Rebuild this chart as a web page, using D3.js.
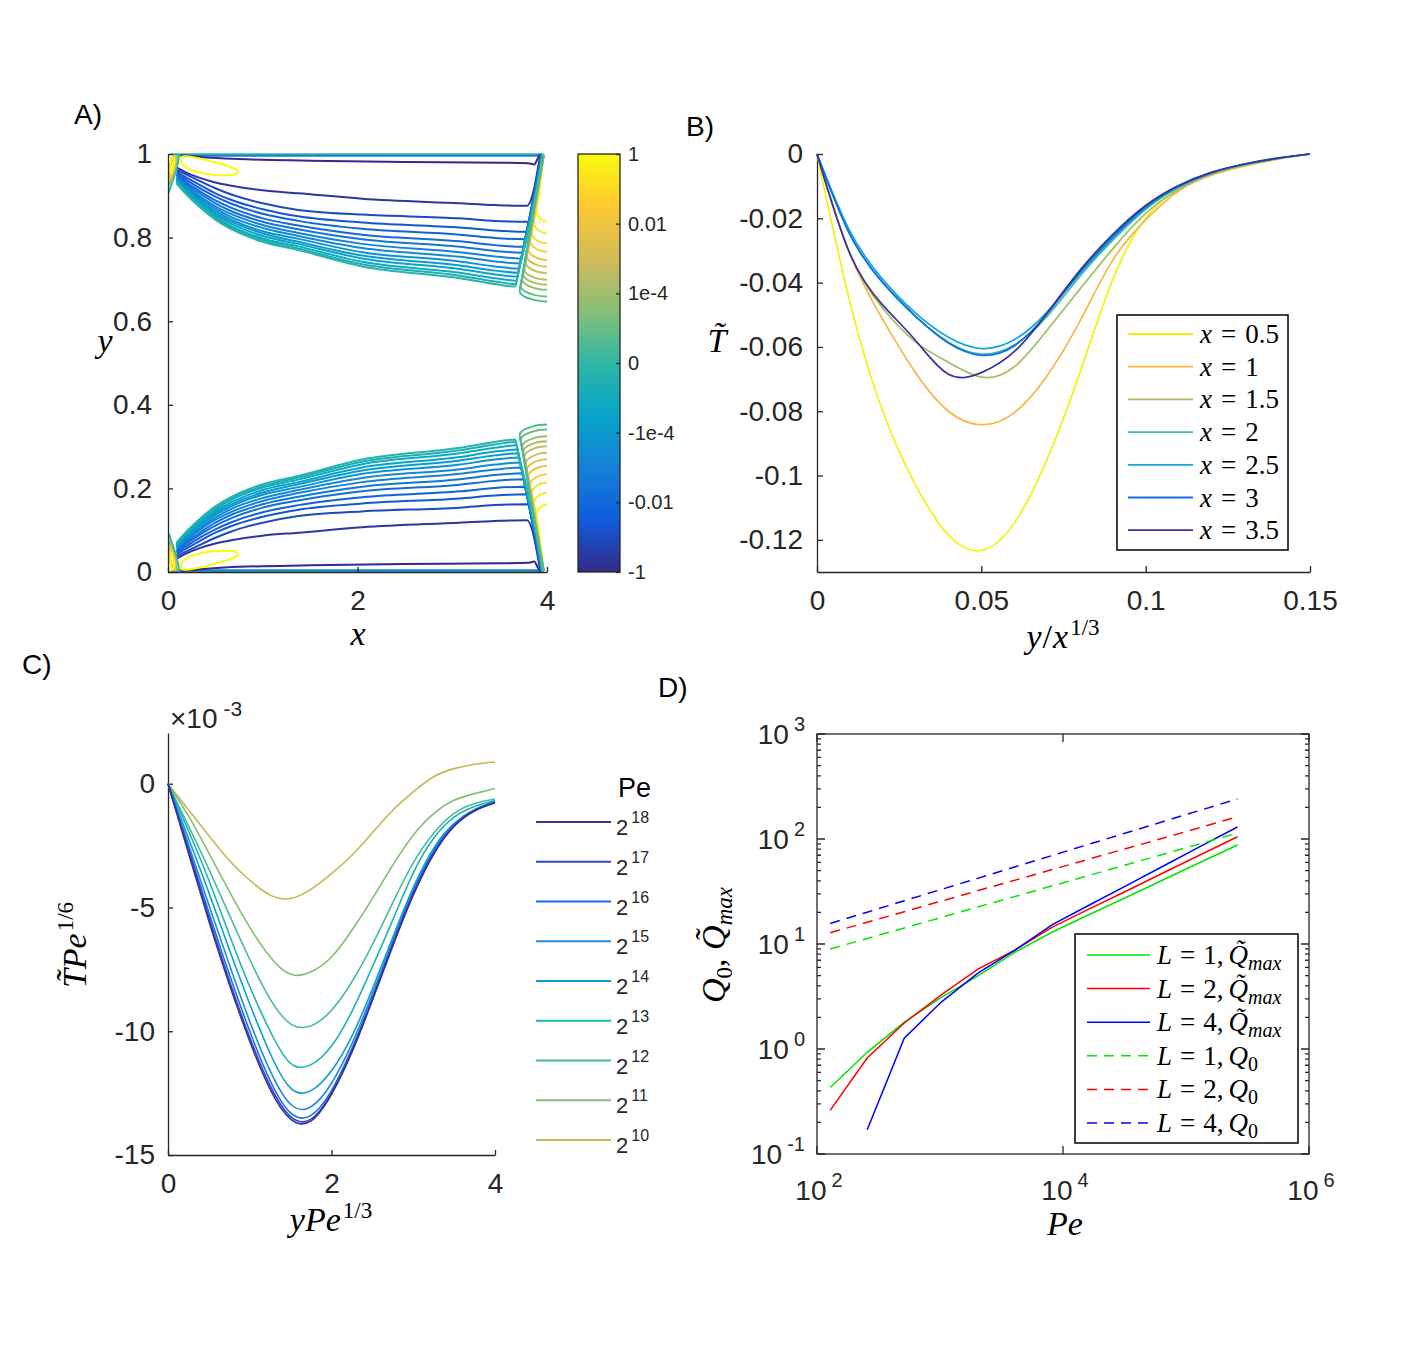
<!DOCTYPE html>
<html>
<head>
<meta charset="utf-8">
<script src="https://cdn.jsdelivr.net/npm/d3@7"></script>
<style>
body { margin: 0; background: #fff; }
</style>
</head>
<body>
<script>
// ---------------- data ----------------
// panel A
const ticksAx = [0, 2, 4];
const ticksAy = [0, 0.2, 0.4, 0.6, 0.8, 1];
const cbarLabels = ["1", "0.01", "1e-4", "0", "-1e-4", "-0.01", "-1"];

// contour lines of the upper half of panel A (the lower half is its mirror image)
// lvl = position of the contour level on the colour bar (0 = -1, 1 = +1)
const contourTop = [
  {lvl: 0.50, pts: [[0.03, 0.9995], [2, 0.9995], [3.97, 0.9995]]},
  {lvl: 0.25, pts: [[0.12, 0.996], [2, 0.996], [3.93, 0.996]]},
  {lvl: 0.00, pts: [[0.14, 0.997], [0.6, 0.989], [1.5, 0.984], [2.5, 0.981], [3.5, 0.979], [3.80, 0.978], [3.865, 0.975], [3.90, 0.988], [3.925, 0.999]]},
  {lvl: 0.03, pts: [[0.09, .968], [0.2, .955], [0.32, .944], [0.5, .932], [0.67, .924], [1.0, .913], [1.375, .906], [2.05, .893], [3.08, .882], [3.45, .878], [3.79, .876], [3.845, .90], [3.90, .96], [3.93, .998]]},
  {lvl: 0.080, pts: [[0.09, .962], [0.2, .950], [0.32, .937], [0.5, .918], [0.67, .903], [1.0, .882], [1.375, .866], [2.05, .855], [3.08, .846], [3.45, .840], [3.804, .838], [3.834, .868], [3.905, .96], [3.935, .998]]},
  {lvl: 0.113, pts: [[0.09, .957], [0.2, .943], [0.32, .928], [0.5, .906], [0.67, .890], [1.0, .868], [1.375, .851], [2.05, .836], [3.08, .824], [3.45, .817], [3.782, .814], [3.812, .844], [3.909, .96], [3.938, .998]]},
  {lvl: 0.146, pts: [[0.09, .953], [0.2, .937], [0.32, .920], [0.5, .898], [0.67, .881], [1.0, .857], [1.375, .840], [2.05, .821], [3.08, .807], [3.45, .799], [3.766, .796], [3.796, .826], [3.912, .96], [3.940, .998]]},
  {lvl: 0.179, pts: [[0.09, .950], [0.2, .931], [0.32, .913], [0.5, .889], [0.67, .871], [1.0, .846], [1.375, .829], [2.05, .807], [3.08, .791], [3.45, .782], [3.749, .778], [3.779, .808], [3.915, .96], [3.943, .998]]},
  {lvl: 0.212, pts: [[0.09, .947], [0.2, .927], [0.32, .908], [0.5, .882], [0.67, .863], [1.0, .838], [1.375, .820], [2.05, .796], [3.08, .778], [3.45, .768], [3.737, .764], [3.767, .794], [3.917, .96], [3.945, .998]]},
  {lvl: 0.245, pts: [[0.09, .944], [0.2, .923], [0.32, .902], [0.5, .875], [0.67, .856], [1.0, .830], [1.375, .811], [2.05, .785], [3.08, .765], [3.45, .755], [3.724, .750], [3.754, .780], [3.919, .96], [3.946, .998]]},
  {lvl: 0.278, pts: [[0.09, .941], [0.2, .919], [0.32, .898], [0.5, .870], [0.67, .849], [1.0, .823], [1.375, .804], [2.05, .775], [3.08, .754], [3.45, .743], [3.713, .738], [3.743, .768], [3.921, .96], [3.948, .998]]},
  {lvl: 0.311, pts: [[0.09, .939], [0.2, .915], [0.32, .893], [0.5, .864], [0.67, .843], [1.0, .815], [1.375, .797], [2.05, .765], [3.08, .743], [3.45, .731], [3.703, .726], [3.733, .756], [3.923, .96], [3.949, .998]]},
  {lvl: 0.344, pts: [[0.09, .937], [0.2, .912], [0.32, .889], [0.5, .859], [0.67, .838], [1.0, .810], [1.375, .790], [2.05, .757], [3.08, .733], [3.45, .721], [3.693, .716], [3.723, .746], [3.925, .96], [3.951, .998]]},
  {lvl: 0.377, pts: [[0.09, .935], [0.2, .909], [0.32, .885], [0.5, .855], [0.67, .833], [1.0, .804], [1.375, .785], [2.05, .750], [3.08, .725], [3.45, .712], [3.685, .707], [3.715, .737], [3.926, .96], [3.952, .998]]},
  {lvl: 0.410, pts: [[0.09, .933], [0.2, .906], [0.32, .881], [0.5, .850], [0.67, .827], [1.0, .798], [1.375, .779], [2.05, .742], [3.08, .716], [3.45, .703], [3.676, .697], [3.706, .727], [3.928, .96], [3.953, .998]]},
  {lvl: 0.443, pts: [[0.09, .931], [0.2, .904], [0.32, .878], [0.5, .846], [0.67, .823], [1.0, .794], [1.375, .774], [2.05, .736], [3.08, .709], [3.45, .695], [3.669, .689], [3.699, .719], [3.929, .96], [3.954, .998]]},
  {lvl: 0.476, pts: [[0.09, .930], [0.2, .902], [0.32, .876], [0.5, .843], [0.67, .820], [1.0, .790], [1.375, .770], [2.05, .731], [3.08, .703], [3.45, .689], [3.664, .683], [3.694, .713], [3.930, .96], [3.955, .998]]},
  // positive contours hooking into the right wall
  {lvl: 1.00, pts: [[3.965, .998], [3.913, .898], [3.892, .858], [3.946, .842], [4, .838]]},
  {lvl: 0.96, pts: [[3.965, .998], [3.888, .870], [3.866, .830], [3.933, .814], [4, .810]]},
  {lvl: 0.92, pts: [[3.965, .998], [3.866, .846], [3.845, .806], [3.922, .790], [4, .786]]},
  {lvl: 0.88, pts: [[3.965, .998], [3.848, .826], [3.827, .786], [3.913, .770], [4, .766]]},
  {lvl: 0.84, pts: [[3.965, .998], [3.830, .806], [3.809, .766], [3.905, .750], [4, .746]]},
  {lvl: 0.80, pts: [[3.965, .998], [3.815, .790], [3.794, .750], [3.897, .734], [4, .730]]},
  {lvl: 0.76, pts: [[3.965, .998], [3.802, .775], [3.781, .735], [3.890, .719], [4, .715]]},
  {lvl: 0.72, pts: [[3.965, .998], [3.787, .759], [3.766, .719], [3.883, .703], [4, .699]]},
  {lvl: 0.68, pts: [[3.965, .998], [3.776, .747], [3.755, .707], [3.877, .691], [4, .687]]},
  {lvl: 0.64, pts: [[3.965, .998], [3.766, .735], [3.745, .695], [3.872, .679], [4, .675]]},
  {lvl: 0.59, pts: [[3.965, .998], [3.751, .719], [3.730, .679], [3.865, .663], [4, .659]]},
  {lvl: 0.54, pts: [[3.965, .998], [3.740, .707], [3.719, .667], [3.860, .651], [4, .647]]},
  // small closed contours near the left wall
  {lvl: 1.00, closed: true, pts: [[0.145, .993], [0.32, .990], [0.53, .978], [0.69, .966], [0.742, .958], [0.707, .952], [0.567, .949], [0.39, .953], [0.215, .965], [0.15, .977]]},
  {lvl: 0.50, closed: true, pts: [[0.0, .905], [0.04, .93], [0.09, .965], [0.11, .995], [0.07, .998], [0.02, .97], [0.0, .94]]},
  {lvl: 0.65, closed: true, pts: [[0.01, .925], [0.045, .945], [0.085, .975], [0.09, .995], [0.05, .99], [0.015, .96]]},
  {lvl: 0.85, closed: true, pts: [[0.02, .94], [0.05, .955], [0.075, .98], [0.07, .995], [0.04, .985], [0.02, .965]]},
  {lvl: 1.00, closed: true, pts: [[0.03, .955], [0.055, .97], [0.06, .99], [0.04, .993], [0.025, .975]]}
];

// panel B
const etaB = [0, 0.01, 0.02, 0.03, 0.04, 0.05, 0.06, 0.07, 0.08, 0.09, 0.10, 0.11, 0.12, 0.13, 0.14, 0.15];
const ticksBx = [0, 0.05, 0.1, 0.15];
const ticksBy = [0, -0.02, -0.04, -0.06, -0.08, -0.1, -0.12];
const xLabelsB = ["0.5", "1", "1.5", "2", "2.5", "3", "3.5"];
const tB_x05 = [0, -0.046, -0.080, -0.103, -0.1185, -0.1233, -0.1148, -0.095, -0.068, -0.039, -0.020, -0.011, -0.0065, -0.0038, -0.0017, 0];
const tB_x10 = [0, -0.031, -0.0515, -0.068, -0.080, -0.0842, -0.0805, -0.069, -0.052, -0.033, -0.0205, -0.0115, -0.0066, -0.0037, -0.0016, 0];
const tB_x15 = [0, -0.031, -0.048, -0.0585, -0.0648, -0.0694, -0.0662, -0.0548, -0.042, -0.0295, -0.0185, -0.011, -0.0063, -0.0035, -0.0015, 0];
const tB_x20 = [0, -0.025, -0.040, -0.0505, -0.0585, -0.0622, -0.0594, -0.0505, -0.038, -0.0268, -0.0172, -0.0104, -0.006, -0.0033, -0.0014, 0];
const tB_x25 = [0, -0.024, -0.039, -0.0495, -0.057, -0.0605, -0.0578, -0.0492, -0.0372, -0.0262, -0.0168, -0.0102, -0.0059, -0.0032, -0.0014, 0];
const tB_x30 = [0, -0.025, -0.040, -0.0505, -0.0588, -0.0626, -0.0597, -0.0497, -0.0368, -0.0257, -0.0164, -0.0100, -0.0058, -0.0032, -0.0014, 0];
const tB_x35 = [0, -0.031, -0.047, -0.058, -0.0685, -0.0680, -0.0615, -0.0495, -0.0362, -0.025, -0.016, -0.0098, -0.0057, -0.0031, -0.0013, 0];
const colorsB = ["#f4f00c", "#fcb441", "#9dbe63", "#3bbda2", "#0fa6d8", "#1070e3", "#3a3395"];

// panel C
const xiC = [0, 0.25, 0.5, 0.75, 1, 1.25, 1.5, 1.75, 2, 2.25, 2.5, 2.75, 3, 3.25, 3.5, 3.75, 4];
const ticksCx = [0, 2, 4];
const ticksCy = [0, -5, -10, -15];
const peExpC = [18, 17, 16, 15, 14, 13, 12, 11, 10];
const tC_p18 = [0, -2.8, -5.55, -8.1, -10.4, -12.35, -13.55, -13.62, -12.55, -10.85, -8.75, -6.55, -4.5, -2.85, -1.72, -1.1, -0.77];
const tC_p17 = [0, -2.7, -5.4, -7.95, -10.25, -12.2, -13.45, -13.55, -12.5, -10.8, -8.7, -6.5, -4.45, -2.8, -1.7, -1.08, -0.76];
const tC_p16 = [0, -2.6, -5.2, -7.7, -10.0, -12.0, -13.3, -13.4, -12.4, -10.7, -8.65, -6.45, -4.4, -2.75, -1.68, -1.07, -0.75];
const tC_p15 = [0, -2.45, -4.9, -7.3, -9.6, -11.6, -12.95, -13.05, -12.1, -10.5, -8.5, -6.35, -4.3, -2.7, -1.65, -1.05, -0.74];
const tC_p14 = [0, -2.2, -4.4, -6.7, -8.9, -10.9, -12.3, -12.4, -11.6, -10.2, -8.3, -6.2, -4.2, -2.6, -1.6, -1.05, -0.72];
const tC_p13 = [0, -1.9, -3.9, -6.1, -8.2, -10.0, -11.3, -11.35, -10.6, -9.2, -7.4, -5.5, -3.6, -2.2, -1.35, -0.92, -0.68];
const tC_p12 = [0, -1.7, -3.45, -5.3, -7.1, -8.7, -9.7, -9.78, -9.15, -8.0, -6.5, -4.8, -3.2, -2.0, -1.2, -0.8, -0.62];
const tC_p11 = [0, -1.3, -2.8, -4.35, -5.8, -7.0, -7.7, -7.6, -7.0, -5.92, -4.64, -3.29, -2.08, -1.21, -0.67, -0.4, -0.19];
const tC_p10 = [0, -1.05, -2.1, -3.1, -3.9, -4.5, -4.64, -4.26, -3.63, -2.89, -1.98, -1.07, -0.33, 0.28, 0.61, 0.79, 0.88];
const colorsC = ["#3b3190", "#2c47cf", "#1a6ee4", "#2388e0", "#0aa0d2", "#1eb4b4", "#48bd98", "#84be72", "#c7b74f"];

// panel D
const peD = [128, 256, 512, 1024, 2048, 4096, 8192, 16384, 32768, 65536, 131072, 262144];
const qmaxL1 = [0.43, 0.93, 1.8, 3.1, 5.0, 8.4, 13.0, 19.1, 27.9, 40.9, 60, 87.7];
const qmaxL2 = [0.26, 0.82, 1.77, 3.27, 5.8, 8.8, 14.5, 21.6, 32, 47.7, 70.8, 105];
const qmaxL4 = [null, 0.17, 1.27, 2.8, 5.3, 8.8, 15.3, 23.5, 36, 55.3, 85, 130];
const q0L1 = [8.95, 11.3, 14.2, 17.9, 22.6, 28.4, 35.8, 45.1, 56.9, 71.7, 90.3, 113.8];
const q0L2 = [12.8, 16.1, 20.3, 25.6, 32.3, 40.6, 51.2, 64.5, 81.3, 102, 129, 163];
const q0L4 = [15.7, 20.1, 25.8, 33.1, 42.4, 54.4, 69.7, 89.4, 114.6, 147, 188, 241];
const ticksDxExp = [2, 4, 6];
const ticksDyExp = [-1, 0, 1, 2, 3];

// ---------------- drawing ----------------
const W = 1425, H = 1350;
const ink = "#262626";
const sans = "'Liberation Sans', Arial, sans-serif";
const serif = "'Liberation Serif', 'Times New Roman', serif";
const tickFs = 28;
const labFs = 34;

const parula = ["#352a87", "#0f5cdd", "#1481d6", "#06a4ca", "#2eb7a4", "#87bf77", "#d1bb59", "#fec832", "#f9fb0e"];
const parulaAt = d3.scaleLinear().domain(parula.map((c, i) => i / (parula.length - 1))).range(parula);

const svg = d3.select("body").append("svg").attr("width", W).attr("height", H)
  .style("font-family", sans);

function styleAxis(g) {
  g.attr("font-size", tickFs).attr("font-family", sans);
  g.select(".domain").attr("stroke", ink).attr("stroke-width", 1.3);
  g.selectAll(".tick line").attr("stroke", ink).attr("stroke-width", 1.3);
  g.selectAll(".tick text").attr("fill", ink);
}

function panelLabel(x, y, s) {
  svg.append("text").attr("x", x).attr("y", y).attr("font-size", 28).attr("fill", "#000").text(s);
}

function monotoneInX(p) {
  return p.every((d, i) => i === 0 || d[0] >= p[i - 1][0]);
}

// ===== panel A =====
const xA = d3.scaleLinear().domain([0, 4]).range([168, 547]);
const yA = d3.scaleLinear().domain([0, 1]).range([572, 154]);

svg.append("clipPath").attr("id", "clipA").append("rect")
  .attr("x", xA(0)).attr("y", yA(1) - 1).attr("width", xA(4) - xA(0) + 1).attr("height", yA(0) - yA(1) + 2);

const gA = svg.append("g").attr("clip-path", "url(#clipA)");
const lineTop = d3.line().x(d => xA(d[0])).y(d => yA(d[1]));
const lineBot = d3.line().x(d => xA(d[0])).y(d => yA(1 - d[1]));
const curveFor = d => d.closed ? d3.curveCatmullRomClosed.alpha(0.5)
  : (monotoneInX(d.pts) ? d3.curveMonotoneX : d3.curveCatmullRom.alpha(0.5));

[lineTop, lineBot].forEach(ln => {
  gA.append("g").selectAll("path")
    .data(contourTop)
    .join("path")
    .attr("d", d => ln.curve(curveFor(d))(d.pts))
    .attr("fill", "none")
    .attr("stroke", d => parulaAt(d.lvl))
    .attr("stroke-width", 2);
});

svg.append("g").attr("transform", `translate(0,${yA(0)})`)
  .call(d3.axisBottom(xA).tickValues(ticksAx).tickSizeInner(-5).tickSizeOuter(0).tickPadding(18).tickFormat(d3.format("d")))
  .call(styleAxis);
svg.append("g").attr("transform", `translate(${xA(0)},0)`)
  .call(d3.axisLeft(yA).tickValues(ticksAy).tickSizeInner(-5).tickSizeOuter(0).tickPadding(16).tickFormat(d => String(d)))
  .call(styleAxis);

svg.append("text").attr("x", 358).attr("y", 645).attr("text-anchor", "middle")
  .attr("font-family", serif).attr("font-style", "italic").attr("font-size", labFs).text("x");
svg.append("text").attr("x", 105).attr("y", 352).attr("text-anchor", "middle")
  .attr("font-family", serif).attr("font-style", "italic").attr("font-size", labFs).text("y");

// colour bar
const cbX = 578, cbW = 42;
const grad = svg.append("defs").append("linearGradient").attr("id", "parula")
  .attr("x1", 0).attr("y1", 1).attr("x2", 0).attr("y2", 0);
grad.selectAll("stop").data(parula).join("stop")
  .attr("offset", (d, i) => i / (parula.length - 1)).attr("stop-color", d => d);
svg.append("rect").attr("x", cbX).attr("y", yA(1)).attr("width", cbW).attr("height", yA(0) - yA(1))
  .attr("fill", "url(#parula)").attr("stroke", ink).attr("stroke-width", 1.3);
const yCb = d3.scalePoint().domain(cbarLabels).range([yA(1), yA(0)]);
svg.append("g").attr("transform", `translate(${cbX + cbW},0)`)
  .call(d3.axisRight(yCb).tickSizeInner(-4).tickSizeOuter(0).tickPadding(8))
  .call(styleAxis)
  .call(g => g.attr("font-size", 20))
  .call(g => g.select(".domain").remove());

panelLabel(74, 124, "A)");

// ===== panel B =====
const xB = d3.scaleLinear().domain([0, 0.15]).range([817, 1310]);
const yB = d3.scaleLinear().domain([-0.13, 0]).range([572, 154]);
const seriesB = [tB_x05, tB_x10, tB_x15, tB_x20, tB_x25, tB_x30, tB_x35].map((v, i) => ({
  label: xLabelsB[i], color: colorsB[i], pts: etaB.map((e, j) => [e, v[j]])
}));
const lineB = d3.line().x(d => xB(d[0])).y(d => yB(d[1])).curve(d3.curveNatural);

svg.append("g").attr("transform", `translate(0,${yB(-0.13)})`)
  .call(d3.axisBottom(xB).tickValues(ticksBx).tickSizeInner(-6).tickSizeOuter(0).tickPadding(18).tickFormat(d => String(d)))
  .call(styleAxis);
svg.append("g").attr("transform", `translate(${xB(0)},0)`)
  .call(d3.axisLeft(yB).tickValues(ticksBy).tickSizeInner(-6).tickSizeOuter(0).tickPadding(14).tickFormat(d => String(d)))
  .call(styleAxis);

svg.append("g").selectAll("path").data(seriesB).join("path")
  .attr("d", d => lineB(d.pts)).attr("fill", "none")
  .attr("stroke", d => d.color).attr("stroke-width", 1.7);

// legend B
const legB = svg.append("g").attr("transform", "translate(1117,315)");
legB.append("rect").attr("width", 171).attr("height", 235).attr("fill", "#fff")
  .attr("stroke", "#000").attr("stroke-width", 1.5);
const rowsB = legB.selectAll("g").data(seriesB).join("g")
  .attr("transform", (d, i) => `translate(0,${19 + i * 32.7})`);
rowsB.append("line").attr("x1", 11).attr("x2", 76).attr("stroke", d => d.color).attr("stroke-width", 1.8);
rowsB.append("text").attr("x", 83).attr("y", 9).attr("font-family", serif).attr("font-size", 27)
  .each(function (d) {
    const t = d3.select(this);
    t.append("tspan").attr("font-style", "italic").text("x");
    t.append("tspan").attr("dx", 9).text("=");
    t.append("tspan").attr("dx", 9).text(d.label);
  });

svg.append("text").attr("x", 1063).attr("y", 648).attr("text-anchor", "middle")
  .attr("font-family", serif).attr("font-size", labFs)
  .call(t => {
    t.append("tspan").attr("font-style", "italic").text("y");
    t.append("tspan").attr("dx", 1).text("/");
    t.append("tspan").attr("dx", 1).attr("font-style", "italic").text("x");
    t.append("tspan").attr("dx", 2).attr("dy", -13).attr("font-size", 23).text("1/3");
  });
svg.append("text").attr("x", 717).attr("y", 352).attr("text-anchor", "middle")
  .attr("font-family", serif).attr("font-style", "italic").attr("font-size", labFs).text("T\u0303");

panelLabel(686, 136, "B)");

// ===== panel C =====
const xC = d3.scaleLinear().domain([0, 4]).range([168, 495]);
const yC = d3.scaleLinear().domain([-15, 2.05]).range([1155, 733]);
const seriesC = [tC_p18, tC_p17, tC_p16, tC_p15, tC_p14, tC_p13, tC_p12, tC_p11, tC_p10].map((v, i) => ({
  exp: peExpC[i], color: colorsC[i], pts: xiC.map((x, j) => [x, v[j]])
}));
const lineC = d3.line().x(d => xC(d[0])).y(d => yC(d[1])).curve(d3.curveNatural);

svg.append("g").attr("transform", `translate(0,${yC(-15)})`)
  .call(d3.axisBottom(xC).tickValues(ticksCx).tickSizeInner(-5).tickSizeOuter(0).tickPadding(18).tickFormat(d3.format("d")))
  .call(styleAxis);
svg.append("g").attr("transform", `translate(${xC(0)},0)`)
  .call(d3.axisLeft(yC).tickValues(ticksCy).tickSizeInner(-5).tickSizeOuter(0).tickPadding(13).tickFormat(d => String(d)))
  .call(styleAxis);

// low-Pe curves first so the deep curves sit on top
svg.append("g").selectAll("path").data(seriesC.slice().reverse()).join("path")
  .attr("d", d => lineC(d.pts)).attr("fill", "none")
  .attr("stroke", d => d.color).attr("stroke-width", 1.6);

svg.append("text").attr("x", 170).attr("y", 728).attr("font-size", 28).attr("fill", ink)
  .call(t => {
    t.append("tspan").text("\u00d710");
    t.append("tspan").attr("dx", 6).attr("dy", -12).attr("font-size", 21).text("-3");
  });

// legend C
svg.append("text").attr("x", 618).attr("y", 797).attr("font-size", 27).text("Pe");
const rowsC = svg.append("g").selectAll("g").data(seriesC).join("g")
  .attr("transform", (d, i) => `translate(0,${822 + i * 39.75})`);
rowsC.append("line").attr("x1", 536).attr("x2", 611).attr("stroke", d => d.color).attr("stroke-width", 1.8);
rowsC.append("text").attr("x", 616).attr("y", 13).attr("font-size", 22).attr("fill", ink)
  .each(function (d) {
    const t = d3.select(this);
    t.append("tspan").text("2");
    t.append("tspan").attr("dx", 3).attr("dy", -12).attr("font-size", 16).text(d.exp);
  });

svg.append("text").attr("x", 331).attr("y", 1231).attr("text-anchor", "middle")
  .attr("font-family", serif).attr("font-size", labFs)
  .call(t => {
    t.append("tspan").attr("font-style", "italic").text("yPe");
    t.append("tspan").attr("dx", 2).attr("dy", -13).attr("font-size", 23).text("1/3");
  });
svg.append("text").attr("transform", "translate(86,945) rotate(-90)").attr("text-anchor", "middle")
  .attr("font-family", serif).attr("font-size", labFs)
  .call(t => {
    t.append("tspan").attr("font-style", "italic").text("T\u0303Pe");
    t.append("tspan").attr("dx", 2).attr("dy", -13).attr("font-size", 23).text("1/6");
  });

panelLabel(22, 674, "C)");

// ===== panel D =====
const xD = d3.scaleLog().domain([1e2, 1e6]).range([817, 1309]);
const yD = d3.scaleLog().domain([1e-1, 1e3]).range([1154, 734]);
const seriesD = [
  {L: 1, kind: "max", color: "#00e600", dash: null, v: qmaxL1},
  {L: 2, kind: "max", color: "#ff0000", dash: null, v: qmaxL2},
  {L: 4, kind: "max", color: "#0000ff", dash: null, v: qmaxL4},
  {L: 1, kind: "0", color: "#00e600", dash: "10,7", v: q0L1},
  {L: 2, kind: "0", color: "#ff0000", dash: "10,7", v: q0L2},
  {L: 4, kind: "0", color: "#0000ff", dash: "10,7", v: q0L4}
];
const lineD = d3.line().defined(d => d[1] != null).x(d => xD(d[0])).y(d => yD(d[1]));

svg.append("g").selectAll("path").data(seriesD).join("path")
  .attr("d", d => lineD(peD.map((p, i) => [p, d.v[i]])))
  .attr("fill", "none").attr("stroke", d => d.color).attr("stroke-width", 1.5)
  .attr("stroke-dasharray", d => d.dash);

const decadesY = ticksDyExp.map(e => Math.pow(10, e));
const minorY = [];
decadesY.slice(0, -1).forEach(b => [2, 3, 4, 5, 6, 7, 8, 9].forEach(m => minorY.push(b * m)));
const decadesX = ticksDxExp.map(e => Math.pow(10, e));

const gD = svg.append("g").attr("stroke", ink).attr("stroke-width", 1.3);
gD.append("rect").attr("x", xD(1e2)).attr("y", yD(1e3)).attr("width", xD(1e6) - xD(1e2)).attr("height", yD(1e-1) - yD(1e3)).attr("fill", "none");
gD.selectAll(".ymaj").data(decadesY).join("path")
  .attr("d", d => `M${xD(1e2)},${yD(d)}h8M${xD(1e6)},${yD(d)}h-8`);
gD.selectAll(".ymin").data(minorY).join("path")
  .attr("d", d => `M${xD(1e2)},${yD(d)}h4M${xD(1e6)},${yD(d)}h-4`);
gD.selectAll(".xmaj").data(decadesX).join("path")
  .attr("d", d => `M${xD(d)},${yD(1e-1)}v-8M${xD(d)},${yD(1e3)}v8`);

function powLabel(t, base, exp) {
  t.append("tspan").text(base);
  t.append("tspan").attr("dx", 5).attr("dy", -13).attr("font-size", 20).text(exp);
}
svg.append("g").selectAll("text").data(ticksDyExp).join("text")
  .attr("x", 805).attr("y", d => yD(Math.pow(10, d)) + 10).attr("text-anchor", "end")
  .attr("font-size", tickFs).attr("fill", ink)
  .each(function (d) { powLabel(d3.select(this), "10", d); });
svg.append("g").selectAll("text").data(ticksDxExp).join("text")
  .attr("x", d => xD(Math.pow(10, d)) + 2).attr("y", 1200).attr("text-anchor", "middle")
  .attr("font-size", tickFs).attr("fill", ink)
  .each(function (d) { powLabel(d3.select(this), "10", d); });

// legend D
const legD = svg.append("g").attr("transform", "translate(1075,934)");
legD.append("rect").attr("width", 223).attr("height", 209).attr("fill", "#fff")
  .attr("stroke", "#000").attr("stroke-width", 1.5);
const rowsD = legD.selectAll("g").data(seriesD).join("g")
  .attr("transform", (d, i) => `translate(0,${21 + i * 33.6})`);
rowsD.append("line").attr("x1", 12).attr("x2", 75)
  .attr("stroke", d => d.color).attr("stroke-width", 1.5).attr("stroke-dasharray", d => d.dash);
rowsD.append("text").attr("x", 82).attr("y", 9).attr("font-family", serif).attr("font-size", 27)
  .each(function (d) {
    const t = d3.select(this);
    t.append("tspan").attr("font-style", "italic").text("L");
    t.append("tspan").attr("dx", 8).text("=");
    t.append("tspan").attr("dx", 8).text(d.L + ",");
    t.append("tspan").attr("dx", 5).attr("font-style", "italic").text(d.kind === "max" ? "Q\u0303" : "Q");
    t.append("tspan").attr("dy", 6).attr("font-size", 20)
      .attr("font-style", d.kind === "max" ? "italic" : "normal").text(d.kind);
  });

svg.append("text").attr("x", 1065).attr("y", 1235).attr("text-anchor", "middle")
  .attr("font-family", serif).attr("font-style", "italic").attr("font-size", labFs).text("Pe");
svg.append("text").attr("transform", "translate(725,945) rotate(-90)").attr("text-anchor", "middle")
  .attr("font-family", serif).attr("font-size", labFs)
  .call(t => {
    t.append("tspan").attr("font-style", "italic").text("Q");
    t.append("tspan").attr("dy", 7).attr("font-size", 23).text("0");
    t.append("tspan").attr("dy", -7).text(", ");
    t.append("tspan").attr("font-style", "italic").text("Q\u0303");
    t.append("tspan").attr("dy", 7).attr("font-size", 23).attr("font-style", "italic").text("max");
  });

panelLabel(658, 697, "D)");
</script>
</body>
</html>
